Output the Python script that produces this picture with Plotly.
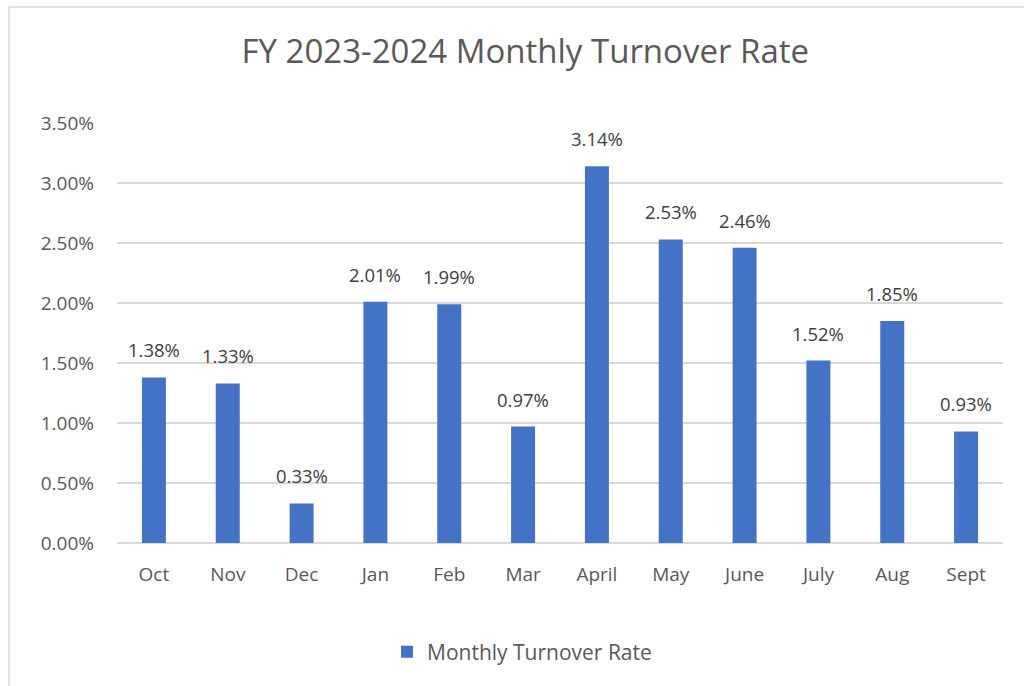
import plotly.graph_objects as go

months = ["Oct", "Nov", "Dec", "Jan", "Feb", "Mar", "April", "May", "June", "July", "Aug", "Sept"]
turnover = [0.0138, 0.0133, 0.0033, 0.0201, 0.0199, 0.0097, 0.0314, 0.0253, 0.0246, 0.0152, 0.0185, 0.0093]
y_ticks = [0, 0.005, 0.01, 0.015, 0.02, 0.025, 0.03, 0.035]

FONT = "Open Sans"
GRID = "#d9d9d9"

fig = go.Figure()
fig.add_trace(go.Bar(
    x=months, y=turnover, name="Monthly Turnover Rate",
    marker=dict(color="#4472C4", line=dict(width=0)),
))

for m, v in zip(months, turnover):
    fig.add_annotation(x=m, y=v, xref="x", yref="y", text=f"{v:.2%}", showarrow=False,
                       yanchor="bottom", yshift=13,
                       font=dict(family=FONT, size=18.5, color="#404040"))

fig.update_layout(
    width=1024, height=686,
    margin=dict(l=117, r=21, t=123, b=143),
    paper_bgcolor="white", plot_bgcolor="white",
    bargap=0.675,
    title=dict(text="FY 2023-2024 Monthly Turnover Rate", x=0.513, xref="container",
               y=1 - 51/686, yref="container", xanchor="center", yanchor="middle",
               font=dict(family=FONT, size=33, color="#595959")),
    showlegend=True,
    legend=dict(orientation="h", x=(387-117)/886, xanchor="left", y=-0.26, yanchor="middle",
                font=dict(family=FONT, size=21, color="#595959")),
    xaxis=dict(tickfont=dict(family=FONT, size=19, color="#595959"), showgrid=False,
               showline=False, ticks="", ticklabelstandoff=18),
    yaxis=dict(range=[0, 0.035], tickvals=y_ticks, tickformat=".2%",
               tickfont=dict(family=FONT, size=19, color="#595959"),
               showgrid=True, gridcolor=GRID, gridwidth=1.5,
               zeroline=True, zerolinecolor=GRID, zerolinewidth=1.5,
               showline=False, ticks="", ticklabelstandoff=22),
    shapes=[
        dict(type="line", xref="paper", yref="paper", x0=(9-117)/886, x1=(1030-117)/886,
             y0=(543-7)/420, y1=(543-7)/420, line=dict(color=GRID, width=1.5)),
        dict(type="line", xref="paper", yref="paper", x0=(9-117)/886, x1=(9-117)/886,
             y0=(543-7)/420, y1=(543-700)/420, line=dict(color=GRID, width=1.5)),
    ],
)

fig.write_html("out.html")
